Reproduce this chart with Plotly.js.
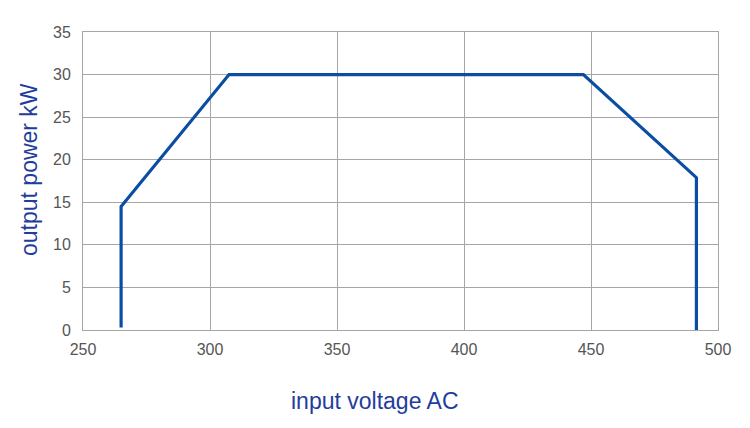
<!DOCTYPE html>
<html>
<head>
<meta charset="utf-8">
<script src="https://cdn.plot.ly/plotly-3.0.1.min.js"></script>
<style>html,body{margin:0;padding:0;background:#fff;}#chart{width:750px;height:428px;}</style>
</head>
<body>
<div id="chart"></div>
<script>
const voltage = [265, 265, 307.5, 447, 491.5, 491.5];
const power = [0.3, 14.5, 30, 30, 17.9, 0];
const xTicks = [250, 300, 350, 400, 450, 500];
const yTicks = [0, 5, 10, 15, 20, 25, 30, 35];
const xTitle = 'input voltage AC';
const yTitle = 'output power kW';

const trace = {
  x: voltage, y: power, type: 'scatter', mode: 'lines',
  line: {color: '#0a4ea3', width: 3.2}, hoverinfo: 'skip'
};
const font = {family: 'Liberation Sans, Arial, sans-serif', size: 16, color: '#555'};
const titleFont = {family: 'Liberation Sans, Arial, sans-serif', size: 23, color: '#1f3d9c'};
const layout = {
  width: 750, height: 428,
  margin: {l: 83, r: 32, t: 32, b: 98},
  paper_bgcolor: '#fff', plot_bgcolor: '#fff',
  showlegend: false,
  font: font,
  xaxis: {
    range: [250, 500], tickvals: xTicks, ticktext: xTicks.map(String),
    showgrid: true, gridcolor: '#a6a6a6', gridwidth: 1,
    showline: true, linecolor: '#a6a6a6', linewidth: 1, mirror: true,
    zeroline: false, ticks: '', ticklabelstandoff: 5,
    automargin: false
  },
  yaxis: {
    range: [0, 35], tickvals: yTicks, ticktext: yTicks.map(String),
    showgrid: true, gridcolor: '#a6a6a6', gridwidth: 1,
    showline: true, linecolor: '#a6a6a6', linewidth: 1, mirror: true,
    zeroline: false, ticks: '', ticklabelstandoff: 8,
    automargin: false
  },
  annotations: [
    {text: xTitle, xref: 'paper', yref: 'paper', x: 0.46, y: -0.238,
     xanchor: 'center', yanchor: 'middle', showarrow: false, font: titleFont},
    {text: yTitle, xref: 'paper', yref: 'paper', x: -0.085, y: 0.537,
     xanchor: 'center', yanchor: 'middle', showarrow: false, textangle: -90, font: titleFont}
  ]
};
Plotly.newPlot('chart', [trace], layout, {staticPlot: true, displayModeBar: false});
</script>
</body>
</html>
